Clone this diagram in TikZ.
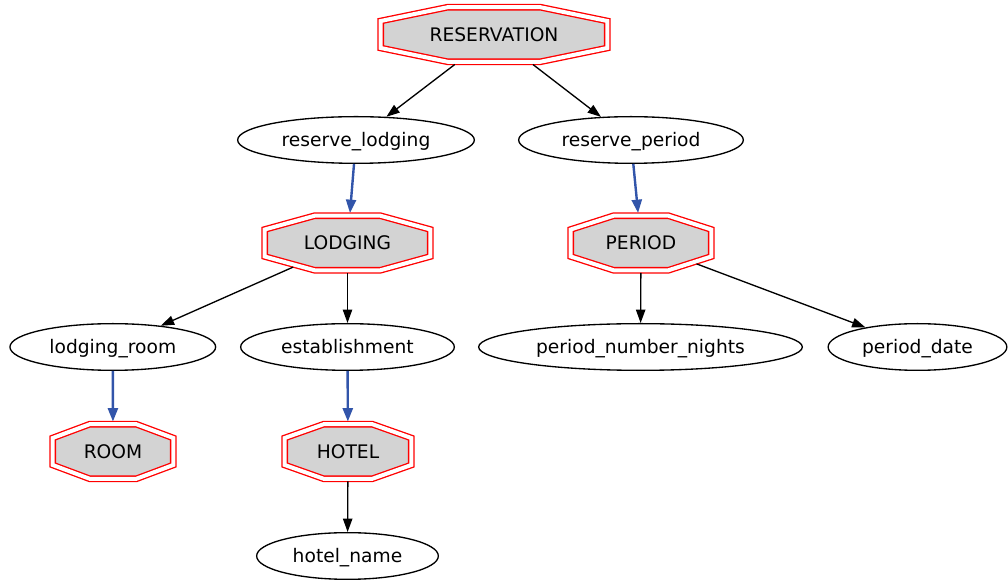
\documentclass[tikz,border=0pt]{standalone}
\usepackage{fontspec}
\setmainfont{DejaVu Sans}
\usetikzlibrary{shapes.geometric,arrows.meta}
\definecolor{edgeblue}{RGB}{50,85,170}
\definecolor{octfill}{RGB}{211,211,211}
\pgfdeclarelayer{bg}
\pgfsetlayers{bg,main}
% #1 node name, #2 half width of path, #3 chamfer dx
\newcommand\gvoct[3]{%
  \begin{pgfonlayer}{bg}
  \begin{scope}[shift={(#1.center)}]
    \draw[octline] (-#2+#3,-27.3) -- (#2-#3,-27.3) -- (#2,-13.5) -- (#2,13.5)
      -- (#2-#3,27.3) -- (-#2+#3,27.3) -- (-#2,13.5) -- (-#2,-13.5) -- cycle;
  \end{scope}
  \end{pgfonlayer}}
\begin{document}
\begin{tikzpicture}[x=0.75pt,y=-0.75pt,
  font=\fontsize{14pt}{16pt}\selectfont,
  every node/.style={text height=10.4pt, text depth=0pt},
  octline/.style={draw=red, line width=1pt, double=white, double distance=3pt,
    fill=octfill, line join=miter},
  oct/.style={rectangle, draw=none, minimum width=#1*0.75pt,
    minimum height=45pt, inner sep=0pt, outer sep=0pt},
  ell/.style={ellipse, draw=black, line width=1pt, minimum width=#1*0.75pt,
    minimum height=35pt, inner sep=0pt},
  arr/.style={draw=black, line width=1pt, -{Triangle[length=10pt,width=7pt]}},
  barr/.style={draw=edgeblue, line width=1.8pt, -{Triangle[length=10pt,width=7.5pt]}},
]
\useasboundingbox (0,0) rectangle (1008,580);
\node[oct=232] (RES) at (494,34.5) {RESERVATION};
\gvoct{RES}{113.3}{67}
\node[ell=236.7] (rl) at (356,140) {reserve\_lodging};
\node[ell=224.7] (rp) at (631,140) {reserve\_period};
\node[oct=171] (LOD) at (347.5,243) {LODGING};
\gvoct{LOD}{82.8}{50}
\node[oct=146] (PER) at (641,243) {PERIOD};
\gvoct{PER}{70.3}{43}
\node[ell=205.7] (lr) at (112.8,347) {lodging\_room};
\node[ell=213.7] (est) at (347.5,347) {establishment};
\node[ell=323.7] (pnn) at (640.5,347) {period\_number\_nights};
\node[ell=178.7] (pd) at (917.5,347) {period\_date};
\node[oct=126] (ROOM) at (113,451.5) {ROOM};
\gvoct{ROOM}{60.3}{37}
\node[oct=132] (HOT) at (348,451.5) {HOTEL};
\gvoct{HOT}{63.3}{39}
\node[ell=181.7] (hn) at (347.5,556) {hotel\_name};
\draw[arr] (RES) -- (rl);
\draw[arr] (RES) -- (rp);
\draw[barr] (rl) -- (LOD);
\draw[barr] (rp) -- (PER);
\draw[arr, shorten <=-10.9pt] (LOD) -- (lr);
\draw[arr] (LOD) -- (est);
\draw[arr] (PER) -- (pnn);
\draw[arr, shorten <=-14pt] (PER) -- (pd);
\draw[barr] (lr) -- (ROOM);
\draw[barr] (est) -- (HOT);
\draw[arr] (HOT) -- (hn);
\end{tikzpicture}
\end{document}
